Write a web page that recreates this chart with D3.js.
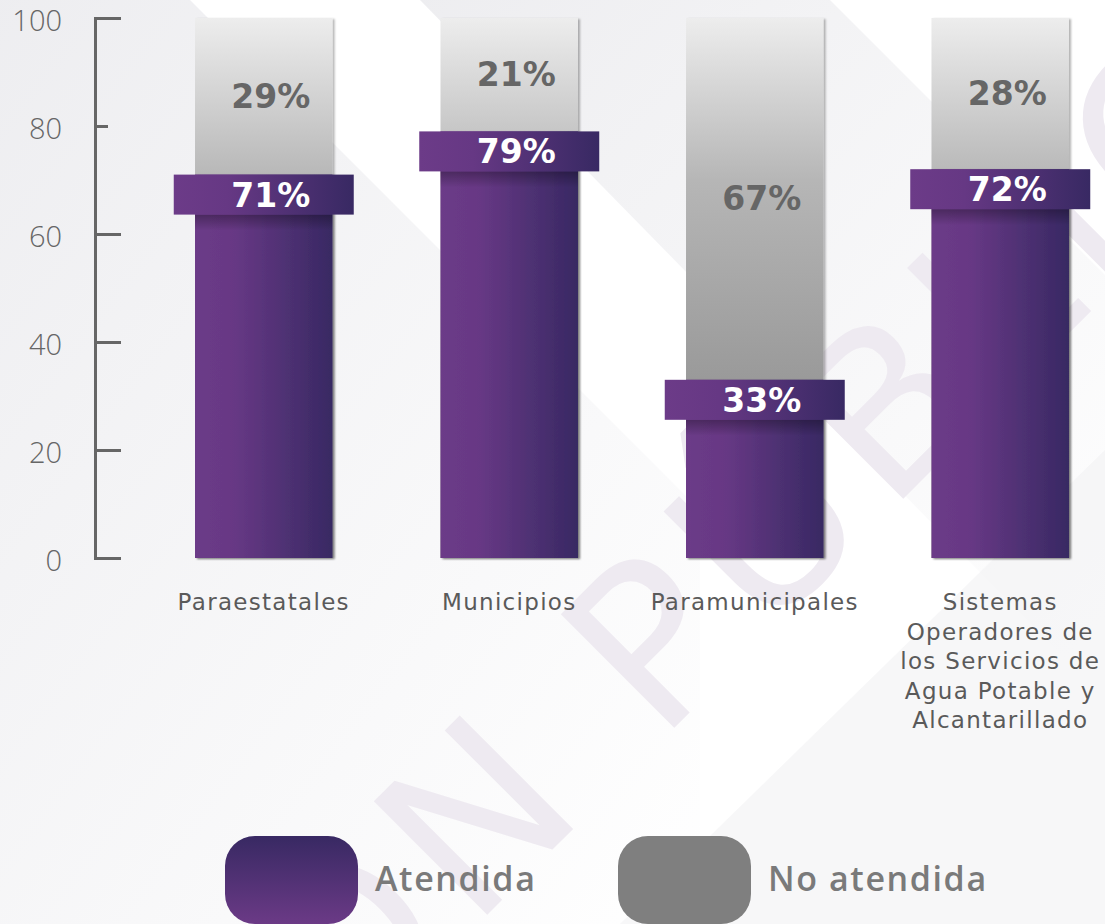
<html>
<head>
  <script src="https://d3js.org/d3.v7.min.js"></script>
  <style>
    body { margin: 0; background: white; }
    .tick text { font-family: "Open Sans", sans-serif; font-weight: 300; font-size: 29px; fill: #666; }
    .cat { font-family: "DejaVu Sans", sans-serif; font-weight: 400; font-size: 23px; fill: #5a5a5a; letter-spacing: 1.3px; }
    .pct { font-family: "DejaVu Sans", sans-serif; font-weight: bold; font-size: 33px; }
    .legend { font-family: "Open Sans", sans-serif; font-weight: 600; font-size: 34px; fill: #7a7a7a; letter-spacing: 1.6px; }
  </style>
</head>
<body>
<svg id="chart" width="1105" height="924"></svg>
<script>
  // values
  const categories = ["Paraestatales", "Municipios", "Paramunicipales", "Sistemas"];
  const categoryLines = [
    ["Paraestatales"],
    ["Municipios"],
    ["Paramunicipales"],
    ["Sistemas", "Operadores de", "los Servicios de", "Agua Potable y", "Alcantarillado"]
  ];
  const atendida = [71, 79, 33, 72];
  const noAtendida = [29, 21, 67, 28];
  const yTicks = [0, 20, 40, 60, 80, 100];
  const legendLabels = ["Atendida", "No atendida"];

  const svg = d3.select("svg#chart");
  const defs = svg.append("defs");

  // gradients
  const purple = defs.append("linearGradient").attr("id", "purpleH")
    .attr("x1", 0).attr("x2", 1).attr("y1", 0).attr("y2", 0);
  purple.append("stop").attr("offset", "0").attr("stop-color", "#6c3b88");
  purple.append("stop").attr("offset", "0.3").attr("stop-color", "#663884");
  purple.append("stop").attr("offset", "1").attr("stop-color", "#382963");

  const purpleV = defs.append("linearGradient").attr("id", "purpleV")
    .attr("x1", 0).attr("x2", 0).attr("y1", 0).attr("y2", 1);
  purpleV.append("stop").attr("offset", "0").attr("stop-color", "#382963");
  purpleV.append("stop").attr("offset", "1").attr("stop-color", "#6b3a86");

  const grey = defs.append("linearGradient").attr("id", "greyV")
    .attr("gradientUnits", "userSpaceOnUse")
    .attr("x1", 0).attr("x2", 0).attr("y1", 18).attr("y2", 558);
  grey.append("stop").attr("offset", "0").attr("stop-color", "#ededed");
  grey.append("stop").attr("offset", "0.3").attr("stop-color", "#b6b6b6");
  grey.append("stop").attr("offset", "0.68").attr("stop-color", "#999");
  grey.append("stop").attr("offset", "1").attr("stop-color", "#8c8c8c");

  const shade = defs.append("linearGradient").attr("id", "shade")
    .attr("x1", 0).attr("x2", 0).attr("y1", 0).attr("y2", 1);
  shade.append("stop").attr("offset", "0").attr("stop-color", "#000").attr("stop-opacity", 0.3);
  shade.append("stop").attr("offset", "1").attr("stop-color", "#000").attr("stop-opacity", 0);

  const fade = defs.append("linearGradient").attr("id", "fade")
    .attr("x1", 0).attr("x2", 1).attr("y1", 0).attr("y2", 1);
  fade.append("stop").attr("offset", "0").attr("stop-color", "#e6e6ea").attr("stop-opacity", 0.7);
  fade.append("stop").attr("offset", "1").attr("stop-color", "#e6e6ea").attr("stop-opacity", 0);

  defs.append("filter").attr("id", "drop")
    .append("feDropShadow").attr("dx", 2).attr("dy", 1).attr("stdDeviation", 1.2)
    .attr("flood-color", "#000").attr("flood-opacity", 0.3);

  defs.append("clipPath").attr("id", "page")
    .append("rect").attr("width", 1105).attr("height", 924);

  // faint background decoration
  const bg = svg.append("g").attr("clip-path", "url(#page)");
  bg.append("polygon").attr("points", "0,0 190,0 700,510 700,924 0,924").attr("fill", "url(#fade)");
  bg.append("polygon").attr("points", "420,0 830,0 1105,275 1105,700").attr("fill", "url(#fade)");
  bg.append("polygon").attr("points", "1105,450 1105,924 620,924").attr("fill", "#f2f2f4").attr("opacity", 0.6);
  bg.append("text")
    .attr("transform", "translate(339,1063) rotate(-45)")
    .attr("font-family", "DejaVu Sans")
    .attr("font-size", 220)
    .attr("letter-spacing", 15)
    .attr("fill", "#eeeaf1")
    .text("ÓN PÚBLICA");

  const y = d3.scaleLinear().domain([0, 100]).range([558, 18]);
  const x = d3.scaleBand().domain(categories).range([141, 1123])
    .paddingInner(0.44).paddingOuter(0.22);

  // axis (ticks point into the chart, labels on the left)
  const axisX = 95;
  const axis = svg.append("g")
    .attr("transform", `translate(${axisX},0)`)
    .call(d3.axisRight(y).tickValues(yTicks).tickSize(26).tickSizeOuter(26));
  axis.select(".domain").attr("stroke", "#666").attr("stroke-width", 3).attr("fill", "none");
  axis.selectAll(".tick line").attr("stroke", "#666").attr("stroke-width", 3)
    .attr("x2", d => d === 80 ? 13 : 26);
  axis.selectAll(".tick text").attr("x", -33).attr("text-anchor", "end").attr("dy", "0.42em");

  // bars
  const bars = svg.append("g").selectAll("g").data(categories).join("g");
  const bw = x.bandwidth();

  bars.append("rect")
    .attr("x", d => x(d)).attr("width", bw)
    .attr("y", (d, i) => y(atendida[i] + noAtendida[i]))
    .attr("height", (d, i) => y(0) - y(atendida[i] + noAtendida[i]))
    .attr("fill", "url(#greyV)").attr("filter", "url(#drop)");

  bars.append("rect")
    .attr("x", d => x(d)).attr("width", bw)
    .attr("y", (d, i) => y(atendida[i]))
    .attr("height", (d, i) => y(0) - y(atendida[i]))
    .attr("fill", "url(#purpleH)").attr("filter", "url(#drop)");

  bars.append("rect")
    .attr("x", d => x(d)).attr("width", bw)
    .attr("y", (d, i) => y(atendida[i]) + 40)
    .attr("height", 16)
    .attr("fill", "url(#shade)");

  const bandW = 180, bandH = 40;
  bars.append("rect")
    .attr("x", d => x(d) + bw / 2 - bandW / 2).attr("width", bandW)
    .attr("y", (d, i) => y(atendida[i]))
    .attr("height", bandH)
    .attr("fill", "url(#purpleH)");

  bars.append("text").attr("class", "pct")
    .attr("x", d => x(d) + bw / 2 + 7)
    .attr("y", (d, i) => y(atendida[i]) + 32)
    .attr("text-anchor", "middle").attr("fill", "white")
    .text((d, i) => atendida[i] + "%");

  bars.append("text").attr("class", "pct")
    .attr("x", d => x(d) + bw / 2 + 7)
    .attr("y", (d, i) => (y(atendida[i] + noAtendida[i]) + y(atendida[i])) / 2 + 11.5)
    .attr("text-anchor", "middle").attr("fill", "#666")
    .text((d, i) => noAtendida[i] + "%");

  // category labels
  bars.append("text").attr("class", "cat")
    .attr("text-anchor", "middle")
    .selectAll("tspan").data((d, i) => categoryLines[i].map(t => ({ t, c: d })))
    .join("tspan")
    .attr("x", d => x(d.c) + bw / 2)
    .attr("y", (d, j) => 610 + j * 29.5)
    .text(d => d.t);

  // legend
  const legend = svg.append("g").selectAll("g").data(legendLabels).join("g")
    .attr("transform", (d, i) => `translate(${[225, 618][i]},836)`);
  legend.append("rect").attr("width", 133).attr("height", 88).attr("rx", 30)
    .attr("fill", (d, i) => i === 0 ? "url(#purpleV)" : "#7f7f7f");
  legend.append("text").attr("class", "legend")
    .attr("x", 150).attr("y", 55)
    .text(d => d);
</script>
</body>
</html>
